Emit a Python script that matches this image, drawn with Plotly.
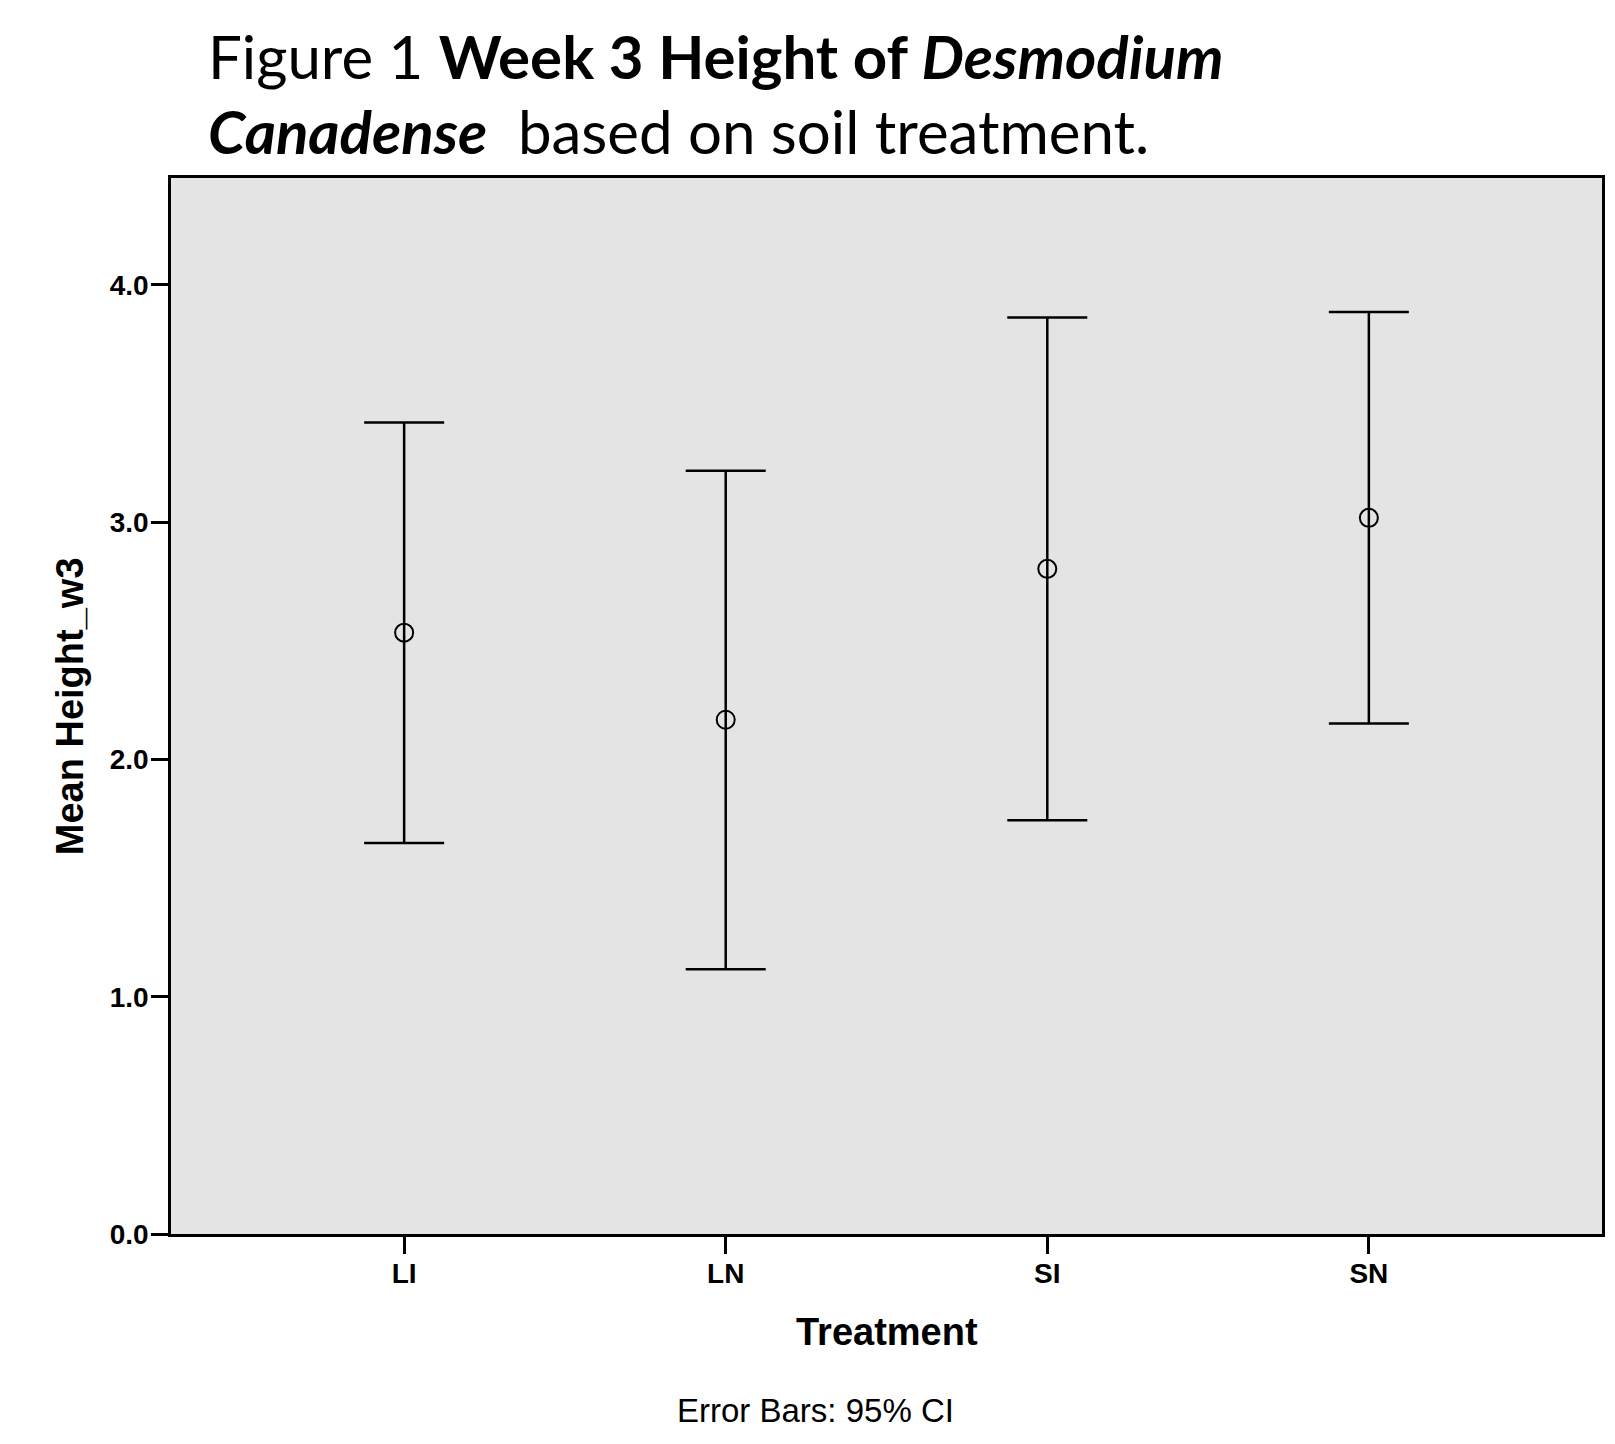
import plotly.graph_objects as go

categories = ["LI", "LN", "SI", "SN"]
means = [2.534, 2.167, 2.803, 3.018]
ci_upper = [3.420, 3.216, 3.862, 3.885]
ci_lower = [1.648, 1.116, 1.744, 2.151]
y_tickvals = [0, 1, 2, 3, 4]
y_ticktext = ["0.0", "1.0", "2.0", "3.0", "4.0"]

err_plus = [u - m for u, m in zip(ci_upper, means)]
err_minus = [m - l for m, l in zip(means, ci_lower)]

# page has an 8px body margin; figure is sized to fit inside the window
OFF = 7
W, H = 1615 - 2 * OFF, 1444 - 2 * OFF
L = 170 - OFF
T = 177 - OFF
R = W - (1604 - OFF)
B = H - (1233 - OFF)
pw, ph = W - L - R, H - T - B


def px(x):
    return (x - OFF - L) / pw


def py(y):
    return (H - B - (y - OFF)) / ph


fig = go.Figure()
fig.add_trace(go.Scatter(
    x=categories, y=means, mode="markers",
    marker=dict(symbol="circle-open", size=18, color="black",
                line=dict(width=2, color="black")),
    error_y=dict(type="data", symmetric=False, array=err_plus,
                 arrayminus=err_minus, width=40, thickness=2.5, color="black"),
    showlegend=False,
))

axis_font = dict(family="Liberation Sans, Arial, sans-serif", size=28, color="black",
                 weight="bold")

fig.update_layout(
    width=W, height=H,
    margin=dict(l=L, r=R, t=T, b=B, pad=0),
    paper_bgcolor="white",
    plot_bgcolor="#e4e4e4",
    xaxis=dict(
        type="category", range=[-0.725, 3.725],
        showgrid=False, zeroline=False,
        showline=True, linecolor="black", linewidth=2.5, mirror=True,
        ticks="outside", ticklen=17, tickwidth=2.5, tickcolor="black",
        tickfont=axis_font, ticklabelstandoff=-4,
    ),
    yaxis=dict(
        range=[0, 4.45], tickvals=y_tickvals, ticktext=y_ticktext,
        showgrid=False, zeroline=False,
        showline=True, linecolor="black", linewidth=2.5, mirror=True,
        ticks="outside", ticklen=17, tickwidth=2.5, tickcolor="black",
        tickfont=axis_font, ticklabelstandoff=-3,
    ),
    font=dict(family="Liberation Sans, Arial, sans-serif", color="black"),
)

title_font = dict(family="Lato, Open Sans, sans-serif", size=60, color="black")
fig.add_annotation(
    text="Figure 1 <b>Week 3 Height of <i>Desmodium</i></b>",
    xref="paper", yref="paper", x=px(205), y=py(55),
    xanchor="left", yanchor="middle", showarrow=False, font=title_font,
)
fig.add_annotation(
    text="<b><i>Canadense</i></b>\u00a0\u00a0based on soil treatment.",
    xref="paper", yref="paper", x=px(205), y=py(130),
    xanchor="left", yanchor="middle", showarrow=False, font=title_font,
)
fig.add_annotation(
    text="<b>Mean Height_w3</b>",
    xref="paper", yref="paper", x=px(69), y=py(705), textangle=-90,
    xanchor="center", yanchor="middle", showarrow=False,
    font=dict(family="Liberation Sans, Arial, sans-serif", size=38, color="black"),
)
fig.add_annotation(
    text="<b>Treatment</b>",
    xref="paper", yref="paper", x=px(887), y=py(1331),
    xanchor="center", yanchor="middle", showarrow=False,
    font=dict(family="Liberation Sans, Arial, sans-serif", size=38, color="black"),
)
fig.add_annotation(
    text="Error Bars: 95% CI",
    xref="paper", yref="paper", x=px(816), y=py(1410),
    xanchor="center", yanchor="middle", showarrow=False,
    font=dict(family="Liberation Sans, Arial, sans-serif", size=33, color="black"),
)

fig.write_html("out.html")
